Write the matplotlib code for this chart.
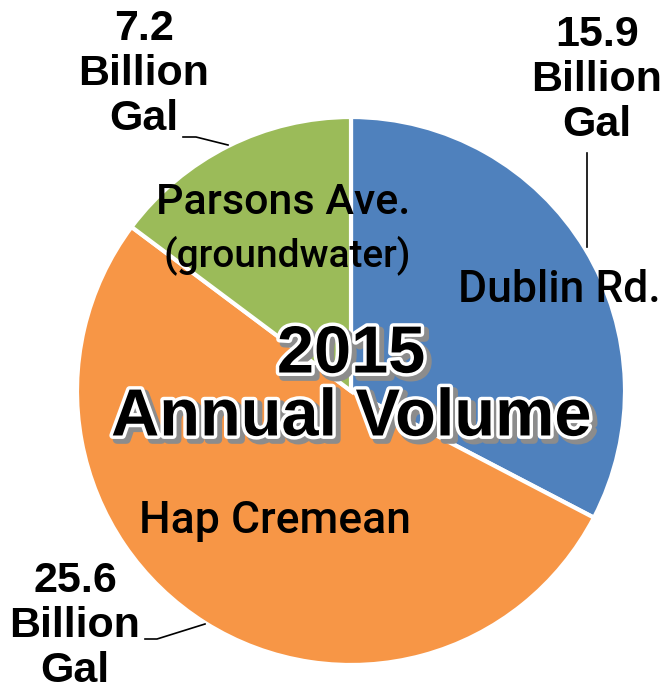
import matplotlib
matplotlib.use("Agg")
import matplotlib.pyplot as plt
import matplotlib.patheffects as pe

plants = ["Dublin Rd.", "Hap Cremean", "Parsons Ave."]
volumes = [15.9, 25.6, 7.2]          # billion gallons, 2015
colors = ["#4F81BD", "#F79646", "#9BBB59"]
value_labels = ["15.9\nBillion\nGal", "25.6\nBillion\nGal", "7.2\nBillion\nGal"]
title = "2015\nAnnual Volume"

W, H = 667, 696
fig = plt.figure(figsize=(W / 100, H / 100), dpi=100)
ax = fig.add_axes([0, 0, 1, 1])

cx, cy, r = 351, H - 391, 274
ax.pie(volumes, colors=colors, startangle=90, counterclock=False,
       center=(cx, cy), radius=r, frame=True,
       wedgeprops=dict(edgecolor="white", linewidth=3))
ax.set_xlim(0, W)
ax.set_ylim(0, H)
ax.axis("off")

inner = dict(family=["Roboto", "DejaVu Sans"], fontweight="medium", color="black",
             ha="center", va="center")
ax.text(559, H - 290, plants[0], fontsize=32, **inner)
ax.text(275, H - 521, plants[1], fontsize=32, **inner)
ax.text(283, H - 203, plants[2], fontsize=31, **inner)
ax.text(287, H - 255, "(groundwater)", fontsize=28, **inner)

outer = dict(family=["Liberation Sans", "DejaVu Sans"], fontweight="bold", color="black",
             ha="center", va="center", fontsize=31, linespacing=1.16)
ax.text(597, H - 80, value_labels[0], **outer)
ax.text(75, H - 626, value_labels[1], **outer)
ax.text(144, H - 74, value_labels[2], **outer)

# leader lines
ax.plot([587, 587], [H - 153, H - 247], color="black", lw=1.2)
ax.plot([145, 157, 205], [H - 639, H - 639, H - 624], color="black", lw=1.2)
ax.plot([183, 196, 228], [H - 137, H - 137, H - 145], color="black", lw=1.2)

ax.text(351, H - 387, title, family=["Liberation Sans", "DejaVu Sans"], fontweight="bold",
        fontsize=48, ha="center", va="center", linespacing=1.02, color="black",
        path_effects=[pe.Stroke(linewidth=6, foreground="#8c8c8c", offset=(3, -3)),
                      pe.Stroke(linewidth=5, foreground="white"),
                      pe.Normal()])

fig.savefig("out.png", dpi=100)
